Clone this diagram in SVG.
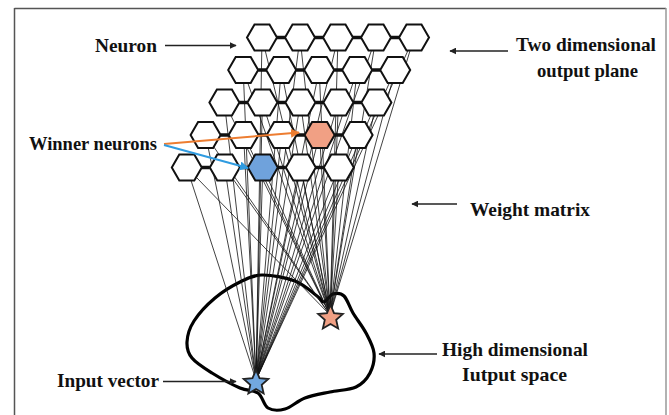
<svg xmlns="http://www.w3.org/2000/svg" xmlns:xlink="http://www.w3.org/1999/xlink" width="669" height="415" viewBox="0 0 669 415">
<style>
.lbl{font-family:"Liberation Serif","DejaVu Serif","Times New Roman",serif;font-weight:bold;font-size:19px;fill:#111}
.hex{fill:#fff;stroke:#111;stroke-width:2}
.bar{stroke:#111;stroke-width:3.5}
.w{stroke:#111;stroke-width:0.8}
.arr{stroke:#222;stroke-width:1.4;fill:none}
.blob{fill:none;stroke:#000;stroke-width:3.2;stroke-linejoin:round}
</style>
<defs>
<marker id="ah" viewBox="0 0 10 10" refX="9" refY="5" markerWidth="7" markerHeight="7" markerUnits="userSpaceOnUse" orient="auto"><path d="M0,0 L10,5 L0,10 z" fill="#222"/></marker>
<marker id="aho" viewBox="0 0 10 10" refX="9" refY="5" markerWidth="9" markerHeight="9" markerUnits="userSpaceOnUse" orient="auto"><path d="M0,0 L10,5 L0,10 z" fill="#ed7d31"/></marker>
<marker id="ahb" viewBox="0 0 10 10" refX="9" refY="5" markerWidth="9" markerHeight="9" markerUnits="userSpaceOnUse" orient="auto"><path d="M0,0 L10,5 L0,10 z" fill="#2f9be0"/></marker>
<polygon id="hx" points="15,0 7.5,13 -7.5,13 -15,0 -7.5,-13 7.5,-13"/>
<polygon id="star" points="0,-13 3.53,-4.85 12.36,-4.02 5.71,1.85 7.64,10.52 0,6 -7.64,10.52 -5.71,1.85 -12.36,-4.02 -3.53,-4.85"/>
</defs>
<rect width="669" height="415" fill="#fff"/>
<g id="frame">
<line x1="14.5" y1="8.5" x2="666" y2="8.5" stroke="#555" stroke-width="1.5"/>
<line x1="14.5" y1="8" x2="14.5" y2="415" stroke="#555" stroke-width="1.5"/>
<line x1="666" y1="8" x2="666" y2="415" stroke="#999" stroke-width="1.5"/>
</g>
<g id="input-space">
<path class="blob" d="M262,275 C271.2,274.8 285.8,277.5 295,281 C304.2,284.5 312.2,292.5 317,296 C321.8,299.5 321.3,302.3 324,302 C326.7,301.7 329.7,295 333,294 C336.3,293 340.7,292.8 344,296 C347.3,299.2 349.3,306.8 353,313 C356.7,319.2 362.5,326.3 366,333 C369.5,339.7 373.3,346.3 374,353 C374.7,359.7 373,367.3 370,373 C367,378.7 362.7,383.8 356,387 C349.3,390.2 338.5,390.2 330,392 C321.5,393.8 312.5,395.2 305,398 C297.5,400.8 291.2,407.3 285,409 C278.8,410.7 272.5,410.7 268,408 C263.5,405.3 262.7,396.3 258,393 C253.3,389.7 247.7,391.3 240,388 C232.3,384.7 220,378 212,373 C204,368 196.2,363.2 192,358 C187.8,352.8 186.7,348.2 187,342 C187.3,335.8 189.3,328.3 194,321 C198.7,313.7 207.3,304.5 215,298 C222.7,291.5 232.2,285.8 240,282 C247.8,278.2 252.8,275.2 262,275 Z"/>
</g>
<g id="connectors">
<g id="weights-blue">
<line class="w" x1="262" y1="37.5" x2="256" y2="380"/><line class="w" x1="300" y1="37.5" x2="256" y2="380"/><line class="w" x1="338" y1="37.5" x2="256" y2="380"/><line class="w" x1="376" y1="37.5" x2="256" y2="380"/><line class="w" x1="414" y1="37.5" x2="256" y2="380"/>
<line class="w" x1="243.2" y1="70" x2="256" y2="380"/><line class="w" x1="281.2" y1="70" x2="256" y2="380"/><line class="w" x1="319.2" y1="70" x2="256" y2="380"/><line class="w" x1="357.2" y1="70" x2="256" y2="380"/><line class="w" x1="395.2" y1="70" x2="256" y2="380"/>
<line class="w" x1="224.4" y1="102.5" x2="256" y2="380"/><line class="w" x1="262.4" y1="102.5" x2="256" y2="380"/><line class="w" x1="300.4" y1="102.5" x2="256" y2="380"/><line class="w" x1="338.4" y1="102.5" x2="256" y2="380"/><line class="w" x1="376.4" y1="102.5" x2="256" y2="380"/>
<line class="w" x1="205.6" y1="135" x2="256" y2="380"/><line class="w" x1="243.6" y1="135" x2="256" y2="380"/><line class="w" x1="281.6" y1="135" x2="256" y2="380"/><line class="w" x1="319.6" y1="135" x2="256" y2="380"/><line class="w" x1="357.6" y1="135" x2="256" y2="380"/>
<line class="w" x1="186.8" y1="167.5" x2="256" y2="380"/><line class="w" x1="224.8" y1="167.5" x2="256" y2="380"/><line class="w" x1="262.8" y1="167.5" x2="256" y2="380"/><line class="w" x1="300.8" y1="167.5" x2="256" y2="380"/><line class="w" x1="338.8" y1="167.5" x2="256" y2="380"/>
</g>
<g id="weights-orange">
<line class="w" x1="262" y1="37.5" x2="330" y2="315"/><line class="w" x1="300" y1="37.5" x2="330" y2="315"/><line class="w" x1="338" y1="37.5" x2="330" y2="315"/><line class="w" x1="376" y1="37.5" x2="330" y2="315"/><line class="w" x1="414" y1="37.5" x2="330" y2="315"/>
<line class="w" x1="243.2" y1="70" x2="330" y2="315"/><line class="w" x1="281.2" y1="70" x2="330" y2="315"/><line class="w" x1="319.2" y1="70" x2="330" y2="315"/><line class="w" x1="357.2" y1="70" x2="330" y2="315"/><line class="w" x1="395.2" y1="70" x2="330" y2="315"/>
<line class="w" x1="224.4" y1="102.5" x2="330" y2="315"/><line class="w" x1="262.4" y1="102.5" x2="330" y2="315"/><line class="w" x1="300.4" y1="102.5" x2="330" y2="315"/><line class="w" x1="338.4" y1="102.5" x2="330" y2="315"/><line class="w" x1="376.4" y1="102.5" x2="330" y2="315"/>
<line class="w" x1="205.6" y1="135" x2="330" y2="315"/><line class="w" x1="243.6" y1="135" x2="330" y2="315"/><line class="w" x1="281.6" y1="135" x2="330" y2="315"/><line class="w" x1="319.6" y1="135" x2="330" y2="315"/><line class="w" x1="357.6" y1="135" x2="330" y2="315"/>
<line class="w" x1="186.8" y1="167.5" x2="330" y2="315"/><line class="w" x1="224.8" y1="167.5" x2="330" y2="315"/><line class="w" x1="262.8" y1="167.5" x2="330" y2="315"/><line class="w" x1="300.8" y1="167.5" x2="330" y2="315"/><line class="w" x1="338.8" y1="167.5" x2="330" y2="315"/>
</g>
<g id="bars">
<line class="bar" x1="277" y1="37.5" x2="285" y2="37.5"/><line class="bar" x1="315" y1="37.5" x2="323" y2="37.5"/><line class="bar" x1="353" y1="37.5" x2="361" y2="37.5"/><line class="bar" x1="391" y1="37.5" x2="399" y2="37.5"/>
<line class="bar" x1="258.2" y1="70" x2="266.2" y2="70"/><line class="bar" x1="296.2" y1="70" x2="304.2" y2="70"/><line class="bar" x1="334.2" y1="70" x2="342.2" y2="70"/><line class="bar" x1="372.2" y1="70" x2="380.2" y2="70"/>
<line class="bar" x1="239.4" y1="102.5" x2="247.4" y2="102.5"/><line class="bar" x1="277.4" y1="102.5" x2="285.4" y2="102.5"/><line class="bar" x1="315.4" y1="102.5" x2="323.4" y2="102.5"/><line class="bar" x1="353.4" y1="102.5" x2="361.4" y2="102.5"/>
<line class="bar" x1="220.6" y1="135" x2="228.6" y2="135"/><line class="bar" x1="258.6" y1="135" x2="266.6" y2="135"/><line class="bar" x1="296.6" y1="135" x2="304.6" y2="135"/><line class="bar" x1="334.6" y1="135" x2="342.6" y2="135"/>
<line class="bar" x1="201.8" y1="167.5" x2="209.8" y2="167.5"/><line class="bar" x1="239.8" y1="167.5" x2="247.8" y2="167.5"/><line class="bar" x1="277.8" y1="167.5" x2="285.8" y2="167.5"/><line class="bar" x1="315.8" y1="167.5" x2="323.8" y2="167.5"/>
</g>
</g>
<g id="neurons">
<g id="row1"><use xlink:href="#hx" class="hex" x="262" y="37.5"/><use xlink:href="#hx" class="hex" x="300" y="37.5"/><use xlink:href="#hx" class="hex" x="338" y="37.5"/><use xlink:href="#hx" class="hex" x="376" y="37.5"/><use xlink:href="#hx" class="hex" x="414" y="37.5"/></g>
<g id="row2"><use xlink:href="#hx" class="hex" x="243.2" y="70"/><use xlink:href="#hx" class="hex" x="281.2" y="70"/><use xlink:href="#hx" class="hex" x="319.2" y="70"/><use xlink:href="#hx" class="hex" x="357.2" y="70"/><use xlink:href="#hx" class="hex" x="395.2" y="70"/></g>
<g id="row3"><use xlink:href="#hx" class="hex" x="224.4" y="102.5"/><use xlink:href="#hx" class="hex" x="262.4" y="102.5"/><use xlink:href="#hx" class="hex" x="300.4" y="102.5"/><use xlink:href="#hx" class="hex" x="338.4" y="102.5"/><use xlink:href="#hx" class="hex" x="376.4" y="102.5"/></g>
<g id="row4"><use xlink:href="#hx" class="hex" x="205.6" y="135"/><use xlink:href="#hx" class="hex" x="243.6" y="135"/><use xlink:href="#hx" class="hex" x="281.6" y="135"/><use xlink:href="#hx" class="hex" x="319.6" y="135" style="fill:#f1a084"/><use xlink:href="#hx" class="hex" x="357.6" y="135"/></g>
<g id="row5"><use xlink:href="#hx" class="hex" x="186.8" y="167.5"/><use xlink:href="#hx" class="hex" x="224.8" y="167.5"/><use xlink:href="#hx" class="hex" x="262.8" y="167.5" style="fill:#6fa2dc"/><use xlink:href="#hx" class="hex" x="300.8" y="167.5"/><use xlink:href="#hx" class="hex" x="338.8" y="167.5"/></g>
</g>
<g id="input-vectors">
<use id="star-orange" xlink:href="#star" x="330.5" y="318" fill="#f1a084" stroke="#222" stroke-width="1.8"/>
<use id="star-blue" xlink:href="#star" x="256" y="383" fill="#72a8e0" stroke="#222" stroke-width="1.8"/>
</g>
<g id="label-arrows">
<line class="arr" x1="165" y1="45.5" x2="236" y2="45.5" marker-end="url(#ah)"/>
<line class="arr" x1="508" y1="51" x2="450" y2="51" marker-end="url(#ah)"/>
<line class="arr" x1="457" y1="204" x2="412" y2="204" marker-end="url(#ah)"/>
<line class="arr" x1="437" y1="354" x2="379" y2="354" marker-end="url(#ah)"/>
<line class="arr" x1="163" y1="381.5" x2="236" y2="381.5" marker-end="url(#ah)"/>
<line x1="164" y1="144" x2="299" y2="132.5" stroke="#ed7d31" stroke-width="2" marker-end="url(#aho)"/>
<line x1="164" y1="145" x2="248" y2="168" stroke="#2f9be0" stroke-width="2" marker-end="url(#ahb)"/>
</g>
<g id="labels" font-family="'Liberation Serif', 'DejaVu Serif', serif" font-weight="bold" font-size="19">
<text class="lbl" x="95" y="52" textLength="62" lengthAdjust="spacingAndGlyphs">Neuron</text>
<text class="lbl" x="516" y="51" textLength="140" lengthAdjust="spacingAndGlyphs">Two dimensional</text>
<text class="lbl" x="537" y="77" textLength="101" lengthAdjust="spacingAndGlyphs">output plane</text>
<text class="lbl" x="29" y="150" textLength="128" lengthAdjust="spacingAndGlyphs">Winner neurons</text>
<text class="lbl" x="470" y="216" textLength="120" lengthAdjust="spacingAndGlyphs">Weight matrix</text>
<text class="lbl" x="442" y="356" textLength="146" lengthAdjust="spacingAndGlyphs">High dimensional</text>
<text class="lbl" x="462" y="381" textLength="105" lengthAdjust="spacingAndGlyphs">Iutput space</text>
<text class="lbl" x="57" y="387" textLength="102" lengthAdjust="spacingAndGlyphs">Input vector</text>
</g>
</svg>
